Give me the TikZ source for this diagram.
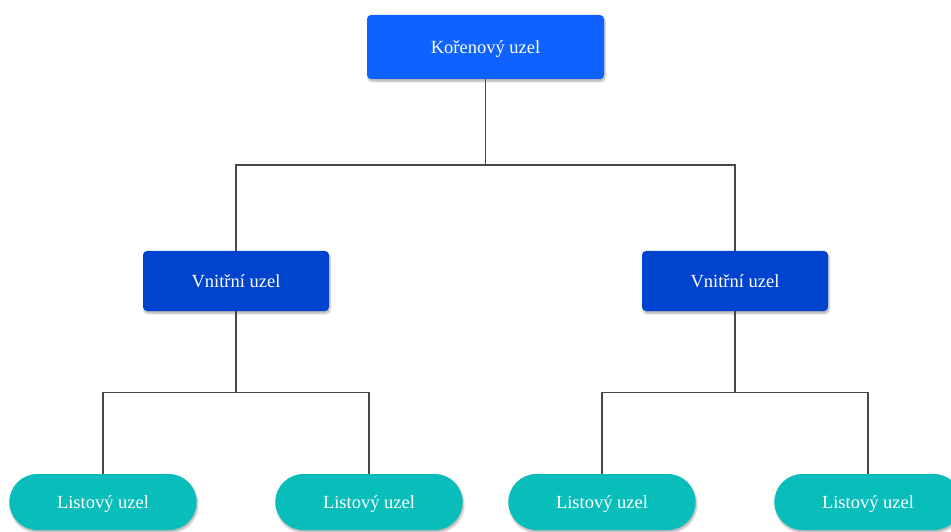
\documentclass[tikz,border=0pt]{standalone}
\usepackage{fontspec}
\setmainfont{Liberation Serif}
\usepackage{tikz}
\usetikzlibrary{shadows}
\usetikzlibrary{shadows.blur}
\usetikzlibrary{calc}
\usetikzlibrary{shapes.misc}
\definecolor{rootblue}{HTML}{0F62FE}
\definecolor{innerblue}{HTML}{0043CE}
\definecolor{leafteal}{HTML}{08BDBA}
\begin{document}
\begin{tikzpicture}[x=1pt, y=1pt,
every node/.style = {shape=rectangle, rounded corners=4pt, text=white,
  align=center, font=\fontsize{18.5}{22}\selectfont, text depth=0pt},
boxshadow/.style = {blur shadow={shadow xshift=1pt, shadow yshift=-2.5pt, shadow blur steps=6, shadow opacity=30}},
rootnode/.style = {boxshadow, fill=rootblue, minimum width=237pt, minimum height=64pt},
innernode/.style = {boxshadow, fill=innerblue, minimum width=186pt, minimum height=60pt},
leafnode/.style = {boxshadow, shape=rounded rectangle, rounded corners=0pt, fill=leafteal,
  minimum width=194pt, minimum height=56pt},
  edge from parent/.style = {line width=1.2pt, draw=black!72},
  edge from parent path = {(\tikzparentnode.south) |- ($(\tikzparentnode.south)!0.5!(\tikzchildnode.north)$) -| (\tikzchildnode.north)},
level 1/.style={sibling distance=499pt, level distance=234pt},
level 2/.style={sibling distance=266pt, level distance=221pt}
]
\useasboundingbox (0,0) rectangle (951,531);
\node (root) [rootnode] at (485.5,484) {Kořenový uzel}
  child { node (innerL) [innernode] {Vnitřní uzel}
    child { node (leafA) [leafnode] {Listový uzel} }
    child { node (leafB) [leafnode] {Listový uzel} }
  }
  child { node (innerR) [innernode] {Vnitřní uzel}
    child { node (leafC) [leafnode] {Listový uzel} }
    child { node (leafD) [leafnode] {Listový uzel} }
  };
\end{tikzpicture}
\end{document}
